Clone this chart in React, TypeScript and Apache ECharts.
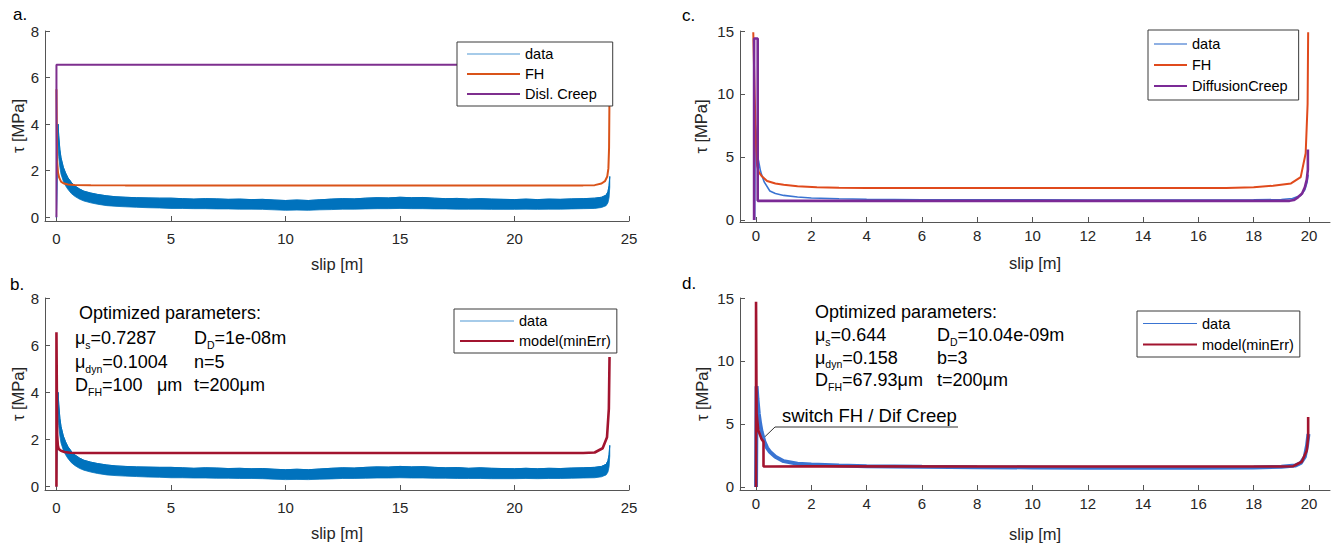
import React, { useEffect, useRef } from 'react';
import * as echarts from 'echarts';

const FONT = '"Liberation Sans", Arial, Helvetica, sans-serif';
const AX = '#555555';
const TXT = '#262626';

// ---------- panel a / b : measured data (noise band envelope) ----------
const xsAB = [0, 0.04, 0.07, 0.1, 0.15, 0.2, 0.3, 0.4, 0.5, 0.65, 0.8, 1.0, 1.2, 1.5, 1.8, 2.2, 2.6, 3.0, 3.5, 4.0, 4.5, 5.0, 5.5, 6, 6.5, 7, 7.5, 8, 8.5, 9, 9.5, 10, 10.5, 11, 11.5, 12, 12.5, 13, 13.5, 14, 14.5, 15, 15.5, 16, 16.5, 17, 17.5, 18, 18.5, 19, 19.5, 20, 20.5, 21, 21.5, 22, 22.5, 23, 23.5, 23.8, 24.0, 24.08, 24.13, 24.16];
const hiAB = [0, 3.3, 4.0, 3.5, 2.9, 2.55, 2.15, 1.9, 1.7, 1.5, 1.35, 1.22, 1.12, 1.04, 0.98, 0.92, 0.88, 0.86, 0.84, 0.83, 0.82, 0.82, 0.8, 0.78, 0.8, 0.79, 0.77, 0.78, 0.76, 0.77, 0.74, 0.72, 0.74, 0.72, 0.75, 0.78, 0.8, 0.79, 0.82, 0.84, 0.83, 0.86, 0.84, 0.85, 0.82, 0.8, 0.81, 0.78, 0.8, 0.78, 0.77, 0.76, 0.78, 0.76, 0.78, 0.77, 0.79, 0.8, 0.82, 0.86, 0.95, 1.1, 1.35, 1.75];
const loAB = [0, 2.7, 3.1, 2.6, 2.15, 1.85, 1.55, 1.35, 1.2, 1.02, 0.9, 0.78, 0.7, 0.62, 0.56, 0.5, 0.47, 0.45, 0.43, 0.41, 0.4, 0.38, 0.38, 0.37, 0.37, 0.36, 0.36, 0.35, 0.35, 0.34, 0.32, 0.3, 0.31, 0.3, 0.32, 0.33, 0.35, 0.35, 0.36, 0.37, 0.37, 0.38, 0.37, 0.37, 0.36, 0.36, 0.35, 0.35, 0.35, 0.34, 0.34, 0.34, 0.35, 0.34, 0.35, 0.35, 0.36, 0.37, 0.38, 0.42, 0.5, 0.62, 0.85, 1.3];

// panel a : FH and dislocation creep
const xFHa = [0, 0.03, 0.07, 0.12, 0.2, 0.3, 0.5, 0.8, 1.5, 3, 23.0, 23.5, 23.8, 23.95, 24.05, 24.1, 24.13, 24.15];
const yFHa = [5.5, 2.4, 1.9, 1.7, 1.53, 1.46, 1.41, 1.39, 1.38, 1.37, 1.37, 1.38, 1.45, 1.55, 1.75, 2.1, 3.0, 5.5];
const xDislA = [0, 0, 24.15];
const yDislA = [0, 6.55, 6.55];

// panel b : model(minErr)
const xMb = [0, 0, 0.03, 0.06, 0.1, 0.2, 0.35, 0.6, 1.0, 2, 23.0, 23.5, 23.85, 24.04, 24.12, 24.15];
const yMb = [0, 6.55, 2.2, 1.75, 1.6, 1.52, 1.47, 1.44, 1.43, 1.43, 1.43, 1.45, 1.63, 2.1, 3.3, 5.5];

// panel c
const xDc = [-0.05, -0.03, 0.0, 0.03, 0.06, 0.1, 0.15, 0.2, 0.3, 0.5, 0.7, 1.0, 1.5, 2.0, 3.0, 4, 6, 8, 10, 12, 14, 16, 18, 19, 19.4, 19.7, 19.85, 19.93, 19.97];
const yDc = [0, 7.6, 7.0, 5.8, 5.0, 4.6, 4.0, 3.6, 3.0, 2.3, 2.1, 1.95, 1.82, 1.75, 1.68, 1.64, 1.61, 1.6, 1.6, 1.59, 1.59, 1.59, 1.6, 1.62, 1.7, 1.95, 2.4, 3.0, 3.6];
const xFHc = [-0.1, -0.05, 0.0, 0.04, 0.1, 0.2, 0.4, 0.7, 1.0, 1.5, 2.2, 3.0, 4.0, 17.0, 18.0, 18.7, 19.35, 19.7, 19.88, 19.95, 19.97];
const yFHc = [14.9, 10.0, 6.0, 4.3, 3.8, 3.5, 3.1, 2.9, 2.8, 2.68, 2.6, 2.55, 2.53, 2.53, 2.6, 2.72, 2.9, 3.4, 5.3, 9.2, 14.9];
const xDCc = [-0.07, -0.07, 0.06, 0.06, 19.3, 19.45, 19.6, 19.75, 19.85, 19.92, 19.96, 19.96];
const yDCc = [0, 14.4, 14.4, 1.52, 1.52, 1.58, 1.8, 2.1, 2.6, 3.2, 4.0, 5.6];

// panel d
const xDd = [0.0, 0.02, 0.05, 0.1, 0.15, 0.2, 0.3, 0.4, 0.5, 0.7, 1.0, 1.5, 2.0, 3, 4, 6, 8, 10, 12, 14, 16, 18, 19, 19.5, 19.7, 19.85, 19.93, 19.98];
const yDd = [0, 8.0, 7.0, 5.8, 5.0, 4.4, 3.6, 3.1, 2.8, 2.4, 2.05, 1.85, 1.78, 1.7, 1.65, 1.6, 1.57, 1.55, 1.53, 1.52, 1.52, 1.55, 1.6, 1.7, 1.9, 2.4, 3.3, 4.2];
const xMd = [0, 0, 0.02, 0.08, 0.2, 0.27, 0.27, 0.5, 2, 10, 16, 19, 19.43, 19.74, 19.92, 19.97, 19.97];
const yMd = [0, 14.7, 5.85, 4.5, 3.8, 3.6, 1.62, 1.62, 1.64, 1.63, 1.62, 1.63, 1.65, 2.0, 2.9, 4.0, 5.55];
const switchPoint = [0.26, 3.86];

// ticks
const ticksX25 = [0, 5, 10, 15, 20, 25];
const ticksX20 = [0, 2, 4, 6, 8, 10, 12, 14, 16, 18, 20];
const ticksY8 = [0, 2, 4, 6, 8];
const ticksY15 = [0, 5, 10, 15];

const pairs = (xs: number[], ys: number[]) => xs.map((x, i) => [x, ys[i]]);

const mkX = (gi: number, min: number, max: number, ticks: number[], margin: number, nameGap: number) => ({
  type: 'value', gridIndex: gi, min, max,
  name: 'slip [m]', nameLocation: 'middle', nameGap,
  nameTextStyle: { fontFamily: FONT, fontSize: 16.5, color: TXT },
  axisLine: { show: true, onZero: false, lineStyle: { color: AX, width: 1 } },
  axisTick: { show: true, inside: true, length: 5, customValues: ticks, lineStyle: { color: AX } },
  axisLabel: { customValues: ticks, margin, fontFamily: FONT, fontSize: 15, color: TXT },
  splitLine: { show: false },
});
const mkY = (gi: number, min: number, max: number, ticks: number[], nameGap: number) => ({
  type: 'value', gridIndex: gi, min, max,
  name: 'τ [MPa]', nameLocation: 'middle', nameGap,
  nameTextStyle: { fontFamily: FONT, fontSize: 16.5, color: TXT },
  axisLine: { show: true, onZero: false, lineStyle: { color: AX, width: 1 } },
  axisTick: { show: true, inside: true, length: 5, customValues: ticks, lineStyle: { color: AX } },
  axisLabel: { customValues: ticks, margin: 6, fontFamily: FONT, fontSize: 15, color: TXT },
  splitLine: { show: false },
});

const line = (name: string, idx: number, xs: number[], ys: number[], color: string, width: number) => ({
  name, type: 'line', xAxisIndex: idx, yAxisIndex: idx,
  data: pairs(xs, ys), symbol: 'none', showSymbol: false, clip: true,
  lineStyle: { color, width }, itemStyle: { color }, silent: true,
});

const band = (idx: number, color: string) => ({
  type: 'custom', xAxisIndex: idx, yAxisIndex: idx, silent: true, clip: true,
  data: xsAB.map((x, i) => [x, loAB[i], hiAB[i]]),
  encode: { x: 0, y: [1, 2] },
  renderItem: (params: any, api: any) => {
    if (params.dataIndex !== 0) return null;
    const top = xsAB.map((x, i) => api.coord([x, hiAB[i]]));
    const bot = xsAB.map((x, i) => api.coord([x, loAB[i]])).reverse();
    return { type: 'polygon', shape: { points: top.concat(bot) }, style: { fill: color, stroke: color, lineWidth: 0.8 } };
  },
});

const legendBase = {
  orient: 'vertical', backgroundColor: '#ffffff', borderColor: '#3a3a3a', borderWidth: 1,
  itemHeight: 14, selectedMode: false,
  itemStyle: { opacity: 0, borderWidth: 0 },
  textStyle: { fontFamily: FONT, fontSize: 14.5, color: '#000', lineHeight: 14 },
  formatter: (n: string) => n.split('#')[0],
};

const rich = {
  m: { fontFamily: FONT, fontSize: 18, color: '#000', lineHeight: 24 },
  s: { fontFamily: FONT, fontSize: 10.5, color: '#000', lineHeight: 11, verticalAlign: 'bottom' },
};
const txt = (x: number, y: number, text: string, size = 18) => ({
  type: 'text', x, y, silent: true,
  style: { text, rich, fontFamily: FONT, fontSize: size, fill: '#000', verticalAlign: 'middle', align: 'left' },
});

export default function App() {
  const ref = useRef<HTMLDivElement>(null);
  useEffect(() => {
    const chart = echarts.init(ref.current!, null, { renderer: 'svg' });
    const BLUE = '#0072BD', ORANGE = '#D95319', PURPLE = '#7E2F8E', DRED = '#A2142F';
    const BLUE2 = '#3a74d2', ORANGE2 = '#E04A1C', PURPLE2 = '#7B2A96';
    const option: any = {
      animation: false,
      backgroundColor: '#ffffff',
      grid: [
        { left: 45, top: 31, width: 584, height: 190, outerBoundsMode: 'none' },
        { left: 45, top: 298, width: 584, height: 192, outerBoundsMode: 'none' },
        { left: 740, top: 31, width: 590, height: 191, outerBoundsMode: 'none' },
        { left: 740, top: 298, width: 590, height: 192, outerBoundsMode: 'none' },
      ],
      xAxis: [
        mkX(0, -0.5, 25, ticksX25, 10, 34),
        mkX(1, -0.5, 25, ticksX25, 10, 34),
        mkX(2, -0.58, 20.76, ticksX20, 6, 32),
        mkX(3, -0.58, 20.76, ticksX20, 6, 35),
      ],
      yAxis: [
        mkY(0, -0.16, 8, ticksY8, 19),
        mkY(1, -0.14, 8, ticksY8, 19),
        mkY(2, -0.16, 15, ticksY15, 31),
        mkY(3, -0.24, 15, ticksY15, 30),
      ],
      legend: [
        { ...legendBase, left: 457, top: 42, itemWidth: 53, itemGap: 5, padding: [4.5, 16, 4.5, 9], data: [{ name: 'data#a', lineStyle: { color: '#4f97d4', width: 1.2 } }, 'FH#a', 'Disl. Creep#a'] },
        { ...legendBase, left: 454, top: 309, itemWidth: 54, itemGap: 5, padding: [4.5, 6, 4.5, 5], data: [{ name: 'data#b', lineStyle: { color: '#4f97d4', width: 1.2 } }, 'model(minErr)#b'] },
        { ...legendBase, left: 1148, top: 30, itemWidth: 33, itemGap: 6, padding: [6.5, 11, 6.5, 5], data: [{ name: 'data#c', lineStyle: { color: '#8fb0e3', width: 2 } }, 'FH#c', 'DiffusionCreep#c'] },
        { ...legendBase, left: 1137, top: 311, itemWidth: 54, itemGap: 6, padding: [5, 6, 5, 5], data: [{ name: 'data#d', lineStyle: { width: 1 } }, 'model(minErr)#d'] },
      ],
      series: [
        band(0, BLUE),
        line('data#a', 0, xsAB, hiAB, BLUE, 1),
        line('FH#a', 0, xFHa, yFHa, ORANGE, 2),
        line('Disl. Creep#a', 0, xDislA, yDislA, PURPLE, 2),
        band(1, BLUE),
        line('data#b', 1, xsAB, hiAB, BLUE, 1),
        line('model(minErr)#b', 1, xMb, yMb, DRED, 2.6),
        line('data#c', 2, xDc, yDc, BLUE2, 1.6),
        line('FH#c', 2, xFHc, yFHc, ORANGE2, 2),
        line('DiffusionCreep#c', 2, xDCc, yDCc, PURPLE2, 2.6),
        line('data#d', 3, xDd, yDd, BLUE2, 4),
        line('model(minErr)#d', 3, xMd, yMd, DRED, 2.6),
      ],
    };
    chart.setOption(option);

    const tip = chart.convertToPixel({ gridIndex: 3 } as any, switchPoint) as number[];
    const graphic: any[] = [
      txt(13, 14, 'a.', 17),
      txt(10, 284, 'b.', 17),
      txt(682, 15, 'c.', 17),
      txt(682, 283, 'd.', 17),
      // panel b parameters
      txt(79, 313, 'Optimized parameters:'),
      txt(75, 338, '{m|μ}{s|s}{m|=0.7287}'),
      txt(194, 338, '{m|D}{s|D}{m|=1e-08m}'),
      txt(75, 362, '{m|μ}{s|dyn}{m|=0.1004}'),
      txt(194, 362, '{m|n=5}'),
      txt(75, 385, '{m|D}{s|FH}{m|=100}'),
      txt(157, 385, '{m|μm}'),
      txt(194, 385, '{m|t=200μm}'),
      // panel d parameters
      txt(815, 312, 'Optimized parameters:'),
      txt(815, 335, '{m|μ}{s|s}{m|=0.644}'),
      txt(937, 335, '{m|D}{s|D}{m|=10.04e-09m}'),
      txt(815, 357.5, '{m|μ}{s|dyn}{m|=0.158}'),
      txt(937, 357.5, '{m|b=3}'),
      txt(815, 380, '{m|D}{s|FH}{m|=67.93μm}'),
      txt(937, 380, '{m|t=200μm}'),
      // annotation
      txt(782, 415, 'switch FH / Dif Creep', 18.5),
      {
        type: 'polyline', silent: true,
        shape: { points: [[958, 427], [775, 427], [tip[0], tip[1]]] },
        style: { stroke: '#333', lineWidth: 1, fill: null },
      },
    ];
    chart.setOption({ graphic });
    return () => chart.dispose();
  }, []);
  return <div ref={ref} style={{ position: 'fixed', left: 0, top: 0, width: 1334, height: 545, background: '#fff' }} />;
}
